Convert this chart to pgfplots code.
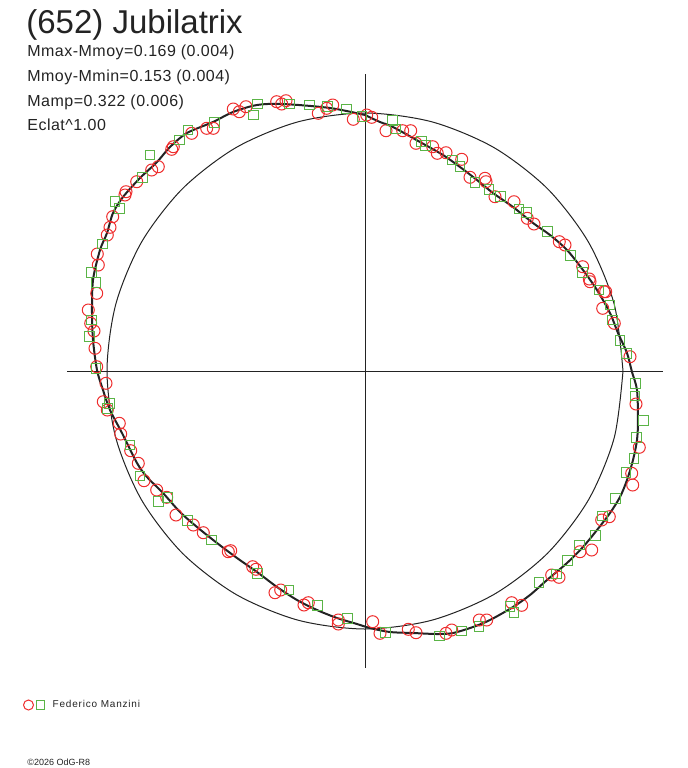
\documentclass[border=0pt]{standalone}
\usepackage{fontspec}
\setmainfont{Liberation Sans}
\usepackage{pgfplots}
\usepackage{pgfplotstable}
\pgfplotsset{compat=1.18}
\definecolor{mred}{RGB}{238,45,45}
\definecolor{mgreen}{RGB}{90,180,70}
\definecolor{ink}{RGB}{35,35,35}

\pgfplotstableread{
x y
365 115
380 122
393 127
420 142
443 155
460 167
477 180
493 193
513 207
533 223
550 235
567 250
583 270
597 290
610 313
618 333
627 353
632 372
637 390
638 420
637 440
633 460
627 480
620 497
610 513
597 530
583 547
567 563
547 580
530 595
513 607
490 620
473 627
453 633
437 634
413 633
390 632
370 628
357 624
337 618
317 610
297 600
277 587
257 572
237 558
217 543
197 527
180 512
163 493
147 477
137 463
122 433
110 410
103 390
97 370
93 340
92 313
93 280
100 250
107 233
113 213
123 197
140 178
157 162
170 147
187 133
213 122
233 112
257 105
283 104
330 108
365 115
}\curvedata

\pgfplotstableread{
x y
623 371
614.2 304.2
588.4 242
547.4 188.6
494 147.6
431.8 121.8
365 113
298.2 121.8
236 147.6
182.6 188.6
141.6 242
115.8 304.2
107 371
115.8 437.8
141.6 500
182.6 553.4
236 594.4
298.2 620.2
365 629
431.8 620.2
494 594.4
547.4 553.4
588.4 500
614.2 437.8
623 371
}\circdata

\pgfplotstableread{
x y
233.3 109
239.3 111.7
246 106.7
276.7 101.7
281.7 104
286 100.7
318.3 113.3
326.7 108.3
332.7 105
353.3 119.3
206.7 128.3
213.3 128.3
191.7 133.3
173.3 146.7
171.7 149.3
158.3 166.7
151.7 170
136.7 181.7
126 191.7
125 195
112.7 216.7
110 227.3
107.3 235
97.3 254
98.3 265
96.7 293.3
88.3 310
90.7 323.3
94 331
95 348.3
96.7 366.7
106 383.3
103.3 401.7
107.3 410
119.3 423.3
120.7 434
130.7 450.7
138.3 463.3
144 480.7
156.7 490
166.7 497.3
176 515
193.3 525
203.3 532.7
228.3 551.7
230.7 550.7
252.7 566.7
256 569.3
275 592.7
280.7 590
304 605
308.3 602.7
338.3 620
338.3 624
372.7 621.7
380 633.3
408.3 629.3
416 632.7
446 633.3
451.7 630
479.3 620
486.7 620
511.7 602.7
521.7 605.3
551.7 575
559 577.3
580 551.7
591.7 550
601.7 520
609.3 516.7
631.7 473.3
632.7 485
636 404
639.3 447.3
630 356.7
614.3 323.3
602.7 308.3
604 291.7
590 281.7
605.7 291.7
589.3 279
582.7 266.7
565 245
559.3 241.7
534 224
527.3 218.3
514 201.7
495 196.7
486 181.7
485 178.3
470 177.3
461.7 159.3
446 152.7
437.3 153.3
432.7 146.7
416 143.3
410.7 130.7
402.7 130.7
386 130.7
371.7 117.3
366.7 115
}\reddata

\pgfplotstableread{
x y
257.7 104
253.7 115
289.3 104
309.3 105
327.3 106.7
346.7 109
362 116.7
214.7 122.3
188 130
179.3 140
150 155
142.7 177.3
115 201.7
119.3 208.3
102.7 244
91.7 272.7
96 282.7
91.7 320
89.3 336.7
96 368.3
109.3 403.3
107.7 408.3
130 445
140 476
158.3 501.7
167.3 497.3
187.7 520.7
211.7 540
257.3 573.3
289 590
317.3 605.3
347.7 618.3
385.7 632.7
439.3 636
461.7 631
479 626.7
510 606.7
514 612.7
539 582.7
556.7 574
567.7 560.7
579.3 545
595.7 535.3
602.3 516
615.7 498.7
626 472.7
634 458.7
599 290
610 305
612.7 320
620 340.7
626.7 353.3
635.7 383.3
635 396
643.3 420.7
636.7 437.3
392.3 120.7
395.7 129
421.7 141.7
425.7 145.7
452.7 160
460 166.7
475 182.7
489 189.3
500.7 196.7
519 209
526.7 212.3
547.7 231.7
570.7 255.7
582.7 272.7
}\greendata

\begin{document}
\begin{tikzpicture}
\useasboundingbox (0,0) rectangle (344pt,384pt);
\begin{axis}[
  scale only axis, width=344pt, height=384pt,
  xmin=0, xmax=688, ymin=0, ymax=768, y dir=reverse,
  hide axis, clip=false,
  legend style={at={(axis cs:23,705)}, anchor=west, draw=none, fill=none,
    inner sep=0pt, outer sep=0pt,
    font=\fontsize{5}{6}\selectfont\addfontfeatures{LetterSpace=8}\color{ink},
    nodes={inner sep=0.6pt}},
  legend cell align=left,
]
\addlegendimage{legend image code/.code={
  \draw[draw=mred, line width=0.5pt] (2.5pt,0pt) circle (2.5pt);
  \draw[draw=mgreen, line width=0.5pt] (6.3pt,-2.2pt) rectangle (10.7pt,2.2pt);
  \path[draw=none] (0pt,0pt) -- (14pt,0pt);}}
\addlegendentry{Federico Manzini}

\addplot[ink, line width=0.5pt, forget plot] coordinates {(67,371) (663,371)};
\addplot[ink, line width=0.5pt, forget plot] coordinates {(365,74) (365,668)};
\addplot[ink, line width=0.5pt, smooth, forget plot] table[x=x,y=y] {\circdata};

\addplot[only marks, mark=o, mark size=3pt, mark options={draw=mred, line width=0.5pt}, forget plot] table[x=x,y=y] {\reddata};
\addplot[only marks, mark=square, mark size=2.4pt, mark options={draw=mgreen, line width=0.5pt}, forget plot] table[x=x,y=y] {\greendata};

\addplot[ink, line width=1pt, smooth, forget plot] table[x=x,y=y] {\curvedata};

\node[anchor=base west, inner sep=0pt, text=ink, font=\fontsize{16.5}{18}\selectfont] at (axis cs:26,33) {(652) Jubilatrix};
\node[anchor=base west, inner sep=0pt, text=ink, font=\fontsize{8}{9}\selectfont\addfontfeatures{LetterSpace=3}] at (axis cs:27,56.7) {Mmax-Mmoy=0.169 (0.004)};
\node[anchor=base west, inner sep=0pt, text=ink, font=\fontsize{8}{9}\selectfont\addfontfeatures{LetterSpace=3}] at (axis cs:27,81.7) {Mmoy-Mmin=0.153 (0.004)};
\node[anchor=base west, inner sep=0pt, text=ink, font=\fontsize{8}{9}\selectfont\addfontfeatures{LetterSpace=3}] at (axis cs:27,106) {Mamp=0.322 (0.006)};
\node[anchor=base west, inner sep=0pt, text=ink, font=\fontsize{8}{9}\selectfont\addfontfeatures{LetterSpace=3}] at (axis cs:27,130) {Eclat\textasciicircum 1.00};
\node[anchor=base west, inner sep=0pt, text=ink, font=\fontsize{4.5}{5}\selectfont] at (axis cs:27,765) {\textcopyright 2026 OdG-R8};
\end{axis}
\end{tikzpicture}
\end{document}
